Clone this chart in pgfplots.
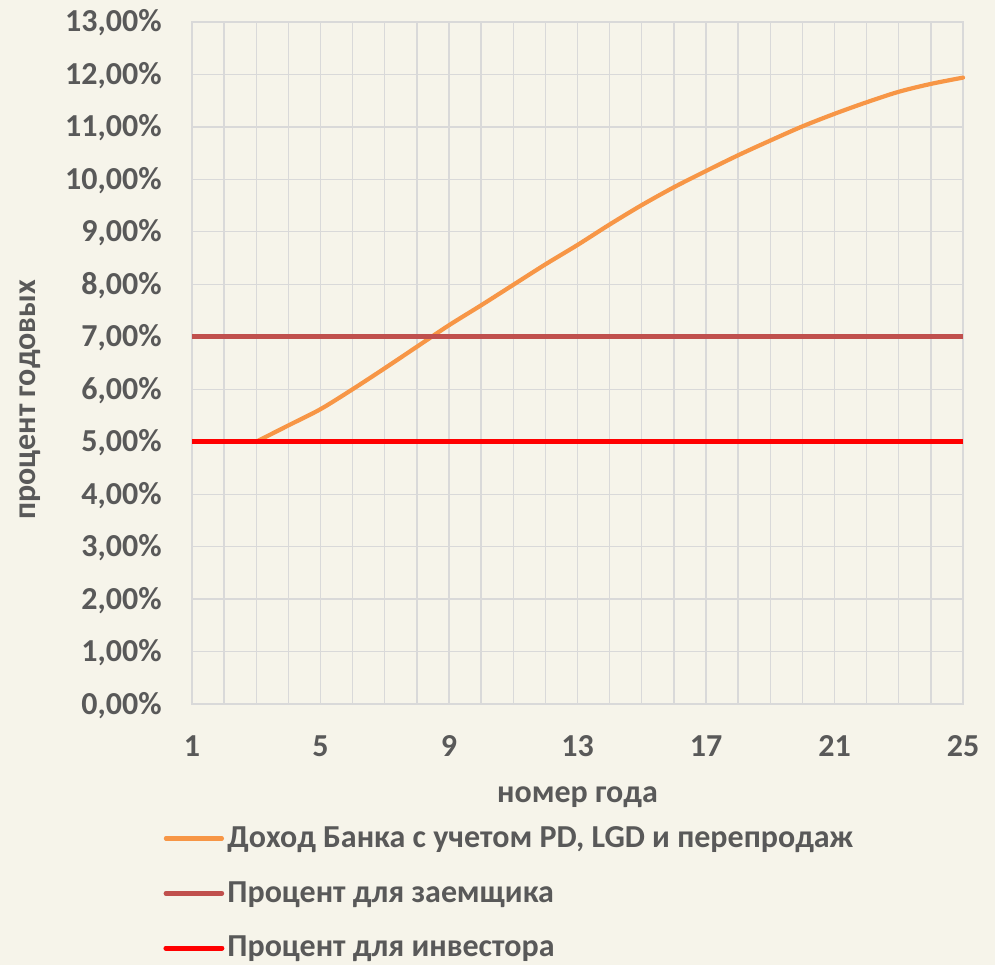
\documentclass[border=0pt]{standalone}
\usepackage{fontspec}
\setmainfont{Carlito}
\usepackage{pgfplots}
\pgfplotsset{compat=1.18}
\definecolor{bg}{HTML}{F6F4EA}
\definecolor{gridc}{HTML}{D9D9D9}
\definecolor{txt}{HTML}{595959}
\definecolor{orng}{HTML}{F79646}
\definecolor{brwn}{HTML}{C0504D}
\definecolor{rd}{HTML}{FF0000}
\begin{document}
\begin{tikzpicture}
\fill[bg] (-96pt,-130.5pt) rectangle (401.5pt,352pt);
\useasboundingbox (-96pt,-130.5pt) rectangle (401.5pt,352pt);
\begin{axis}[
  at={(0,0)}, anchor=south west,
  scale only axis, width=385.5pt, height=341pt,
  xmin=1, xmax=25, ymin=0, ymax=13,
  xtick={1,5,...,25}, minor xtick={1,...,25},
  ytick={0,1,...,13},
  grid=both,
  major grid style={gridc, line width=0.65pt},
  minor grid style={gridc, line width=0.65pt},
  axis line style={gridc, line width=0.65pt},
  major tick length=0pt, minor tick length=0pt,
  clip=false,
  /pgf/number format/assume math mode=true,
  tick label style={font=\fontsize{16}{19}\selectfont\bfseries, text=txt, inner sep=0pt},
  yticklabel={\pgfmathprintnumber[fixed,fixed zerofill,precision=2,use comma]{\tick}\%},
  yticklabel style={anchor=base east, xshift=-15pt, yshift=-5.0pt},
  xticklabel style={anchor=base, yshift=-26.4pt},
  xlabel={номер года}, ylabel={процент годовых},
  label style={font=\fontsize{16}{19}\selectfont\bfseries, text=txt, inner sep=0pt},
  xlabel style={at={(axis description cs:0.5,-0.1437)}, anchor=base},
  ylabel style={at={(axis description cs:-0.2036,0.446)}, anchor=base},
  legend style={at={(axis description cs:-0.0376,-0.1745)}, anchor=north west,
    draw=none, fill=none, font=\fontsize{16}{19}\selectfont\bfseries, text=txt,
    row sep=12.5pt, column sep=0pt, inner sep=0pt, nodes={inner sep=1.5pt}},
  legend cell align=left,
  legend image code/.code={\draw[#1, line cap=round] (0pt,0pt) -- (28pt,0pt);},
]
\addplot[orng, line width=2.1pt, smooth, line cap=round] coordinates {
 (3,5.00) (4,5.31) (5,5.62) (6,6.00) (7,6.40) (8,6.81) (9,7.22) (10,7.60)
 (11,7.99) (12,8.38) (13,8.75) (14,9.14) (15,9.51) (16,9.85) (17,10.16)
 (18,10.46) (19,10.74) (20,11.01) (21,11.25) (22,11.47) (23,11.67) (24,11.82) (25,11.94)};
\addlegendentry{Доход Банка с учетом PD, LGD и перепродаж}
\addplot[brwn, line width=2.3pt] coordinates {(1,7) (25,7)};
\addlegendentry{Процент для заемщика}
\addplot[rd, line width=2.5pt] coordinates {(1,5) (25,5)};
\addlegendentry{Процент для инвестора}
\end{axis}
\end{tikzpicture}
\end{document}
